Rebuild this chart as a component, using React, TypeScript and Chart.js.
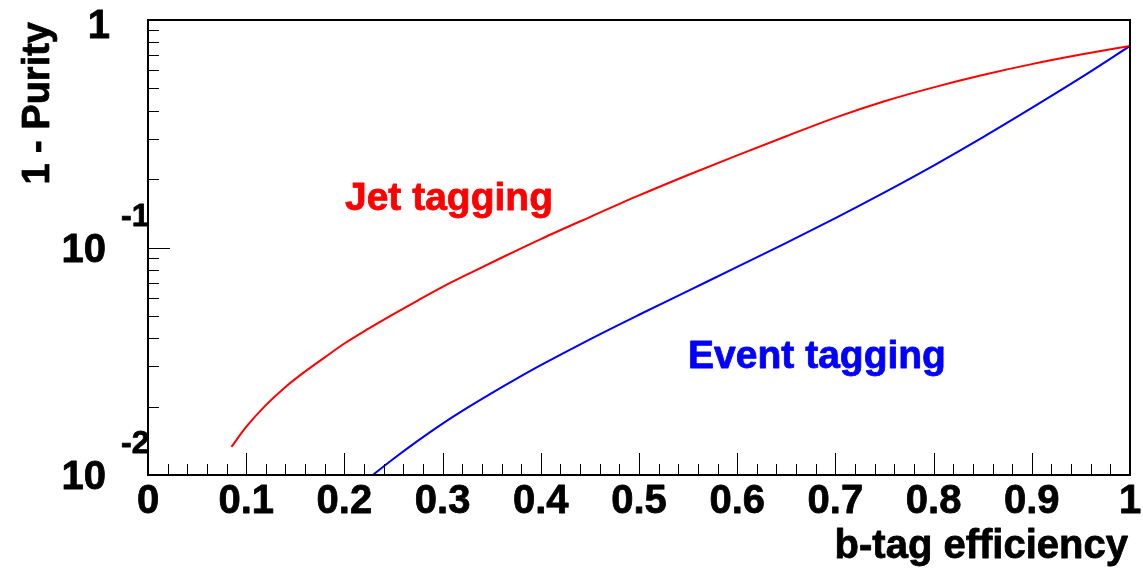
import React, { useEffect, useRef } from "react";
import { Chart, registerables } from "chart.js";

Chart.register(...registerables);

// ---- data ----
const jetEff = [0.085, 0.1, 0.12, 0.14, 0.16, 0.18, 0.2, 0.225, 0.25, 0.275, 0.3, 0.33, 0.36, 0.4, 0.45, 0.5, 0.55, 0.6, 0.65, 0.7, 0.75, 0.8, 0.85, 0.9, 0.95, 1.0];
const jetImpurity = [0.0133, 0.01626, 0.02028, 0.02438, 0.02851, 0.03289, 0.03784, 0.04406, 0.05093, 0.05861, 0.06714, 0.07798, 0.09016, 0.1089, 0.1361, 0.1694, 0.2084, 0.2541, 0.3083, 0.3724, 0.4395, 0.5058, 0.5728, 0.6397, 0.7047, 0.769];

const eventEff = [0.229, 0.25, 0.275, 0.3, 0.325, 0.35, 0.375, 0.4, 0.45, 0.5, 0.55, 0.6, 0.65, 0.7, 0.75, 0.8, 0.85, 0.9, 0.95, 1.0];
const eventImpurity = [0.01, 0.01178, 0.01416, 0.01683, 0.01972, 0.02291, 0.02645, 0.03038, 0.03949, 0.05063, 0.06449, 0.08213, 0.1048, 0.1347, 0.1748, 0.2293, 0.305, 0.4108, 0.5578, 0.769];

const xMajorTicks = [0, 0.1, 0.2, 0.3, 0.4, 0.5, 0.6, 0.7, 0.8, 0.9, 1];
const xTickLabels = ["0", "0.1", "0.2", "0.3", "0.4", "0.5", "0.6", "0.7", "0.8", "0.9", "1"];
const yMajorTicks = [0.01, 0.1, 1];
const yTickBase = ["10", "10", "1"];
const yTickExp = ["-2", "-1", ""];

const seriesNames = ["Jet tagging", "Event tagging"];
const seriesColors = ["#ff0000", "#0000ff"];
// annotation anchor (data coords) for series labels
const labelX = [0.2006, 0.55];
const labelY = [0.146, 0.0295];

const xTitle = "b-tag efficiency";
const yTitle = "1 - Purity";

const FONT = '"Liberation Sans", Arial, Helvetica, sans-serif';

function boldText(ctx: any, text: string, x: number, y: number, color: string) {
  ctx.fillStyle = color;
  ctx.strokeStyle = color;
  ctx.lineWidth = 0.8;
  ctx.lineJoin = "round";
  ctx.fillText(text, x, y);
  ctx.strokeText(text, x, y);
}

const rootAxesPlugin = {
  id: "rootAxes",
  afterDatasetsDraw(chart: any) {
    const { ctx, chartArea, scales } = chart;
    const xs = scales.x;
    const ys = scales.y;
    const { left, right, top, bottom } = chartArea;
    ctx.save();
    ctx.strokeStyle = "#000";
    ctx.lineWidth = 1;
    // x ticks (inward)
    for (let i = 0; i <= 50; i++) {
      const v = i / 50;
      const px = Math.round(xs.getPixelForValue(v)) + 0.5;
      const major = i % 5 === 0;
      const len = major ? 22 : 11;
      ctx.beginPath();
      ctx.moveTo(px, bottom);
      ctx.lineTo(px, bottom - len);
      ctx.stroke();
    }
    // y ticks (inward)
    const yTickVals: number[] = [];
    for (let d = 0.01; d < 1.5; d *= 10) {
      for (let m = 1; m <= 9; m++) {
        const v = d * m;
        if (v > 1.0001) break;
        yTickVals.push(v);
      }
    }
    yTickVals.forEach((v) => {
      const py = Math.round(ys.getPixelForValue(v)) + 0.5;
      const mant = Math.round(v / Math.pow(10, Math.floor(Math.log10(v) + 1e-9)));
      const len = mant === 1 ? 22 : 11;
      ctx.beginPath();
      ctx.moveTo(left, py);
      ctx.lineTo(left + len, py);
      ctx.stroke();
    });
    // frame
    ctx.lineWidth = 2;
    ctx.strokeRect(left, top, right - left, bottom - top);

    // x tick labels
    ctx.font = `bold 40px ${FONT}`;
    ctx.textAlign = "center";
    ctx.textBaseline = "alphabetic";
    xMajorTicks.forEach((v, i) => {
      boldText(ctx, xTickLabels[i], xs.getPixelForValue(v), bottom + 38, "#000");
    });
    // y tick labels
    yMajorTicks.forEach((v, i) => {
      const py = ys.getPixelForValue(v);
      ctx.font = `bold 40px ${FONT}`;
      ctx.textAlign = "right";
      if (yTickExp[i]) {
        boldText(ctx, yTickBase[i], left - 42, py + 14, "#000");
        ctx.font = `bold 32px ${FONT}`;
        ctx.textAlign = "left";
        boldText(ctx, yTickExp[i], left - 27, py - 22, "#000");
      } else {
        boldText(ctx, yTickBase[i], left - 38, py + 18, "#000");
      }
    });
    // axis titles
    ctx.font = `bold 40px ${FONT}`;
    ctx.textAlign = "right";
    boldText(ctx, xTitle, right - 2, bottom + 83, "#000");
    ctx.save();
    ctx.translate(left - 99, top + 2);
    ctx.rotate(-Math.PI / 2);
    ctx.font = `bold 38px ${FONT}`;
    ctx.textAlign = "right";
    boldText(ctx, yTitle, 0, 0, "#000");
    ctx.restore();

    // series labels
    seriesNames.forEach((name, i) => {
      ctx.font = `bold 39px ${FONT}`;
      ctx.textAlign = "left";
      boldText(ctx, name, xs.getPixelForValue(labelX[i]), ys.getPixelForValue(labelY[i]), seriesColors[i]);
    });
    ctx.restore();
  },
};

export default function App() {
  const canvasRef = useRef<HTMLCanvasElement | null>(null);
  useEffect(() => {
    document.body.style.margin = "0";
    const canvas = canvasRef.current;
    if (!canvas) return;
    const chart = new Chart(canvas, {
      type: "line",
      data: {
        datasets: [
          {
            label: seriesNames[0],
            data: jetEff.map((x, i) => ({ x, y: jetImpurity[i] })),
            borderColor: seriesColors[0],
            borderWidth: 2,
            pointRadius: 0,
            cubicInterpolationMode: "monotone",
            fill: false,
          },
          {
            label: seriesNames[1],
            data: eventEff.map((x, i) => ({ x, y: eventImpurity[i] })),
            borderColor: seriesColors[1],
            borderWidth: 2,
            pointRadius: 0,
            cubicInterpolationMode: "monotone",
            fill: false,
          },
        ],
      },
      options: {
        responsive: false,
        animation: false,
        devicePixelRatio: 1,
        layout: { padding: { left: 148, right: 13, top: 20, bottom: 100 } },
        plugins: { legend: { display: false }, tooltip: { enabled: false } },
        scales: {
          x: { type: "linear", min: 0, max: 1, display: false },
          y: { type: "logarithmic", min: 0.01, max: 1, display: false },
        },
      },
      plugins: [rootAxesPlugin],
    });
    return () => chart.destroy();
  }, []);
  return (
    <div style={{ position: "absolute", left: 0, top: 0, width: 1143, height: 575, background: "#fff" }}>
      <canvas ref={canvasRef} width={1143} height={575} />
    </div>
  );
}
